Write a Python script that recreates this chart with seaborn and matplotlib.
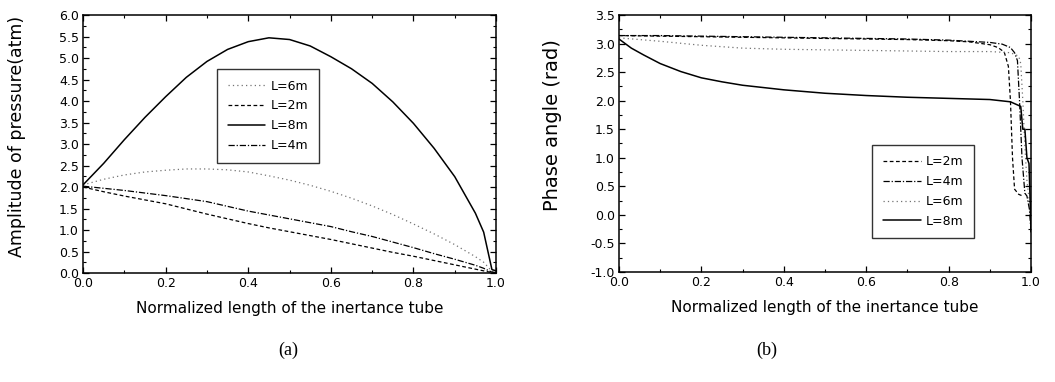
import matplotlib
matplotlib.use("Agg")
import matplotlib.pyplot as plt
from matplotlib.ticker import MultipleLocator, FormatStrFormatter
import seaborn as sns

# ---- (a) amplitude of pressure ----
xa = [0.0, 0.05, 0.1, 0.15, 0.2, 0.25, 0.3, 0.35, 0.4, 0.45, 0.5, 0.55, 0.6, 0.65,
      0.7, 0.75, 0.8, 0.85, 0.9, 0.95, 0.97, 0.99, 1.0]
amp_8m = [2.05, 2.55, 3.10, 3.62, 4.10, 4.55, 4.92, 5.20, 5.38, 5.47, 5.43, 5.28, 5.03, 4.75,
          4.41, 3.98, 3.48, 2.90, 2.24, 1.39, 0.95, 0.08, 0.05]
amp_6m = [2.05, 2.18, 2.28, 2.35, 2.39, 2.42, 2.42, 2.40, 2.35, 2.26, 2.16, 2.04, 1.90, 1.74,
          1.56, 1.36, 1.14, 0.91, 0.66, 0.38, 0.25, 0.04, 0.02]
amp_4m = [2.02, 1.97, 1.92, 1.86, 1.80, 1.73, 1.66, 1.55, 1.44, 1.35, 1.26, 1.17, 1.08, 0.96,
          0.85, 0.72, 0.59, 0.45, 0.32, 0.18, 0.11, 0.02, 0.01]
amp_2m = [2.00, 1.89, 1.79, 1.70, 1.61, 1.49, 1.37, 1.26, 1.15, 1.05, 0.96, 0.87, 0.78, 0.68,
          0.58, 0.48, 0.39, 0.29, 0.19, 0.09, 0.05, 0.01, 0.01]

# ---- (b) phase angle ----
xb_2m = [0.0, 0.1, 0.2, 0.3, 0.4, 0.5, 0.6, 0.7, 0.8, 0.85, 0.9, 0.92, 0.935, 0.945,
         0.95, 0.955, 0.96, 0.97, 0.98]
ph_2m = [3.14, 3.13, 3.12, 3.11, 3.10, 3.09, 3.08, 3.07, 3.05, 3.03, 2.98, 2.93, 2.85, 2.60,
         2.00, 1.00, 0.45, 0.36, 0.33]
xb_4m = [0.0, 0.1, 0.2, 0.3, 0.4, 0.5, 0.6, 0.7, 0.8, 0.9, 0.93, 0.95, 0.96, 0.967,
         0.972, 0.978, 0.985, 0.99, 0.996, 1.0]
ph_4m = [3.14, 3.14, 3.13, 3.12, 3.11, 3.10, 3.09, 3.08, 3.06, 3.02, 2.99, 2.93, 2.84, 2.70,
         2.00, 1.00, 0.38, 0.33, 0.10, -0.30]
xb_6m = [0.0, 0.1, 0.2, 0.3, 0.4, 0.5, 0.6, 0.7, 0.8, 0.9, 0.95, 0.97, 0.975, 0.98,
         0.985, 0.99, 0.995, 1.0]
ph_6m = [3.10, 3.04, 2.97, 2.92, 2.90, 2.89, 2.88, 2.87, 2.86, 2.86, 2.84, 2.78, 2.65, 2.00,
         1.20, 0.60, 0.30, 0.20]
xb_8m = [0.0, 0.03, 0.06, 0.1, 0.15, 0.2, 0.25, 0.3, 0.4, 0.5, 0.6, 0.7, 0.8, 0.9,
         0.95, 0.975, 0.98, 0.985, 0.99, 0.995, 0.998, 1.0]
ph_8m = [3.08, 2.92, 2.80, 2.65, 2.51, 2.40, 2.33, 2.27, 2.19, 2.13, 2.09, 2.06, 2.04, 2.02,
         1.98, 1.90, 1.50, 1.50, 1.00, 0.90, 0.20, -0.30]

sns.set_style("ticks")
plt.rcParams['font.family'] = ['DejaVu Sans']
plt.rcParams.update({'text.color': 'black', 'axes.labelcolor': 'black',
                     'xtick.color': 'black', 'ytick.color': 'black'})

styles = {
    'L=2m': dict(color='black', linestyle=(0, (3, 2)), linewidth=0.9),
    'L=4m': dict(color='black', linestyle=(0, (5, 1.5, 1, 1.5)), linewidth=0.9),
    'L=6m': dict(color='0.45', linestyle=(0, (1, 2.5)), linewidth=0.9),
    'L=8m': dict(color='black', linestyle='-', linewidth=1.1),
}

fig = plt.figure(figsize=(10.55, 3.82), dpi=100)
ax1 = fig.add_axes([0.0787, 0.2853, 0.3915, 0.6754])
ax2 = fig.add_axes([0.5867, 0.2880, 0.3906, 0.6727])

# left panel
for lab, ys in [('L=6m', amp_6m), ('L=2m', amp_2m), ('L=8m', amp_8m), ('L=4m', amp_4m)]:
    sns.lineplot(x=xa, y=ys, ax=ax1, label=lab, **styles[lab])
ax1.set_xlim(0, 1)
ax1.set_ylim(0, 6)
ax1.yaxis.set_major_locator(MultipleLocator(0.5))
ax1.yaxis.set_minor_locator(MultipleLocator(0.25))
ax1.set_ylabel('Amplitude of pressure(atm)', fontsize=12.5)
ax1.yaxis.set_label_coords(-0.138, 0.53)
ax1.legend(loc='upper left', bbox_to_anchor=(0.31, 0.815), fontsize=9,
           handlelength=3.0, handletextpad=0.4, frameon=True, fancybox=False,
           edgecolor='black', labelspacing=0.55, borderpad=0.85)

# right panel
for lab, xs, ys in [('L=2m', xb_2m, ph_2m), ('L=4m', xb_4m, ph_4m),
                    ('L=6m', xb_6m, ph_6m), ('L=8m', xb_8m, ph_8m)]:
    sns.lineplot(x=xs, y=ys, ax=ax2, label=lab, **styles[lab])
ax2.set_xlim(0, 1)
ax2.set_ylim(-1, 3.5)
ax2.yaxis.set_major_locator(MultipleLocator(0.5))
ax2.yaxis.set_minor_locator(MultipleLocator(0.25))
ax2.set_ylabel('Phase angle (rad)', fontsize=14)
ax2.yaxis.set_label_coords(-0.138, 0.57)
ax2.legend(loc='upper left', bbox_to_anchor=(0.60, 0.52), fontsize=9,
           handlelength=3.0, handletextpad=0.4, frameon=True, fancybox=False,
           edgecolor='black', labelspacing=0.55, borderpad=0.85)

for ax in (ax1, ax2):
    ax.xaxis.set_major_locator(MultipleLocator(0.2))
    ax.xaxis.set_minor_locator(MultipleLocator(0.1))
    ax.set_xlabel('Normalized length of the inertance tube', fontsize=11, labelpad=8)
    ax.tick_params(which='both', direction='in', top=True, right=True, labelsize=9, pad=3)
    ax.tick_params(which='major', length=4, width=0.9)
    ax.tick_params(which='minor', length=2, width=0.8)
    for sp in ax.spines.values():
        sp.set_linewidth(1.1)
        sp.set_color('black')
    ax.xaxis.set_major_formatter(FormatStrFormatter('%.1f'))
    ax.yaxis.set_major_formatter(FormatStrFormatter('%.1f'))

fig.text(288 / 1055, 1 - 350 / 382, '(a)', ha='center', va='center',
         fontsize=13, family=['Liberation Serif', 'DejaVu Serif'])
fig.text(767 / 1055, 1 - 350 / 382, '(b)', ha='center', va='center',
         fontsize=13, family=['Liberation Serif', 'DejaVu Serif'])

fig.savefig('out.png', dpi=100)
